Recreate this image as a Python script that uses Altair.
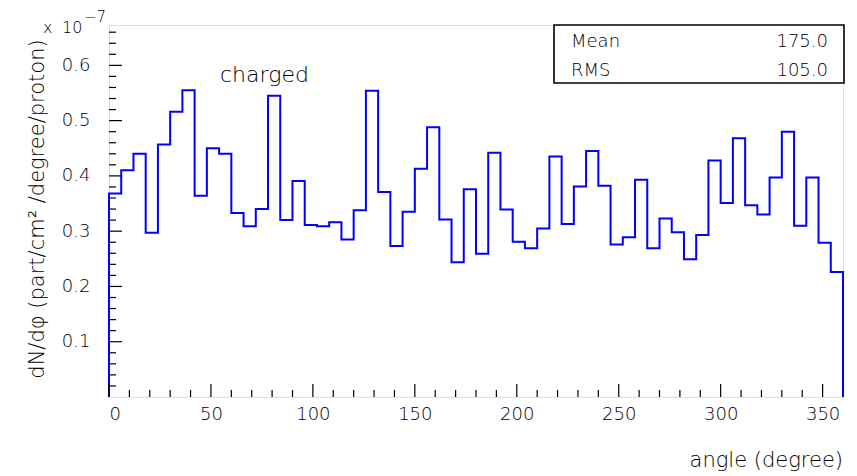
import altair as alt
import pandas as pd

# ---- data (values in units of 1e-7) ----
bin_width = 6
counts = [0.368, 0.410, 0.440, 0.297, 0.457, 0.516, 0.555, 0.364, 0.450, 0.440,
          0.333, 0.309, 0.340, 0.545, 0.320, 0.391, 0.311, 0.309, 0.316, 0.285,
          0.338, 0.554, 0.371, 0.273, 0.335, 0.413, 0.488, 0.321, 0.244, 0.376,
          0.259, 0.442, 0.339, 0.281, 0.269, 0.305, 0.435, 0.313, 0.381, 0.445,
          0.382, 0.276, 0.289, 0.393, 0.269, 0.323, 0.298, 0.249, 0.293, 0.428,
          0.351, 0.468, 0.347, 0.330, 0.397, 0.480, 0.310, 0.397, 0.279, 0.226]
x_major = [0, 50, 100, 150, 200, 250, 300, 350]
x_minor = [v for v in range(10, 360, 10) if v % 50 != 0]
y_major = [0.1, 0.2, 0.3, 0.4, 0.5, 0.6]
y_minor = [round(0.02 * k, 2) for k in range(1, 34) if k % 5 != 0]
stat_names = ["Mean", "RMS"]
stat_values = ["175.0", "105.0"]
label_text = "charged"
x_title = "angle (degree)"
y_title = "dN/d\u03c6 (part/cm\u00b2 /degree/proton)"

W, H = 734, 372
XMAX, YMAX = 360, 0.673
FONT = "DejaVu Sans"
FW = 200

# step outline of the histogram
xs = [0]
ys = [0]
for i, c in enumerate(counts):
    xs.append(i * bin_width)
    ys.append(c)
xs += [len(counts) * bin_width, len(counts) * bin_width]
ys += [counts[-1], 0]
hist = pd.DataFrame({"x": xs, "y": ys, "i": range(len(xs))})

xsc = alt.Scale(domain=[0, XMAX], nice=False, zero=False)
ysc = alt.Scale(domain=[0, YMAX], nice=False, zero=False)

line = alt.Chart(hist).mark_line(interpolate="step-after", color="#0000ff", strokeWidth=2).encode(
    x=alt.X("x:Q", scale=xsc,
            axis=alt.Axis(values=x_major, format="d", ticks=False, tickSize=0, domain=False,
                          grid=False, title=None, labelFont=FONT, labelFontSize=18,
                          labelFontWeight=FW, labelColor="black", labelPadding=8)),
    y=alt.Y("y:Q", scale=ysc,
            axis=alt.Axis(values=y_major, format=".1f", ticks=False, tickSize=0, domain=False,
                          grid=False, title=None, labelFont=FONT, labelFontSize=18,
                          labelFontWeight=FW, labelColor="black", labelPadding=19)),
    order="i:Q",
)

ymaj = alt.Chart(pd.DataFrame({"v": y_major})).mark_rule(color="black", strokeWidth=1.2).encode(
    y=alt.Y("v:Q", scale=ysc), x=alt.value(0), x2=alt.value(13))
ymin = alt.Chart(pd.DataFrame({"v": y_minor})).mark_rule(color="black", strokeWidth=1.2).encode(
    y=alt.Y("v:Q", scale=ysc), x=alt.value(0), x2=alt.value(7))
xmaj = alt.Chart(pd.DataFrame({"v": x_major})).mark_rule(color="black", strokeWidth=1.2).encode(
    x=alt.X("v:Q", scale=xsc), y=alt.value(H), y2=alt.value(H - 13))
xmin = alt.Chart(pd.DataFrame({"v": x_minor})).mark_rule(color="black", strokeWidth=1.2).encode(
    x=alt.X("v:Q", scale=xsc), y=alt.value(H), y2=alt.value(H - 7))

box = alt.Chart(pd.DataFrame({"a": [0]})).mark_rect(fill="white", stroke="black", strokeWidth=1.6).encode(
    x=alt.value(445), x2=alt.value(735), y=alt.value(0), y2=alt.value(58))

stats = pd.DataFrame({"name": stat_names, "val": stat_values, "row": [0, 1]})
stat_names_t = alt.Chart(stats).transform_calculate(py="22 + datum.row * 29").mark_text(
    font=FONT, fontSize=18, fontWeight=FW, align="left", baseline="alphabetic", color="black").encode(
    x=alt.value(462), y=alt.Y("py:Q", scale=None), text="name:N")
stat_vals_t = alt.Chart(stats).transform_calculate(py="22 + datum.row * 29").mark_text(
    font=FONT, fontSize=18, fontWeight=FW, align="right", baseline="alphabetic", color="black").encode(
    x=alt.value(719), y=alt.Y("py:Q", scale=None), text="val:N")

texts = pd.DataFrame({"t": [label_text]})
charged = alt.Chart(texts).mark_text(font=FONT, fontSize=22, fontWeight=FW, align="left",
                                     baseline="alphabetic", color="black").encode(
    x=alt.value(111), y=alt.value(57), text="t:N")

mult = pd.DataFrame({"t": ["x", "10", "\u22127"], "px": [-66, -47, -25], "py": [8, 8, -3],
                     "fs": [16, 16, 15]})
mult_t = alt.Chart(mult).mark_text(font=FONT, fontWeight=FW, align="left", baseline="alphabetic",
                                   color="black").encode(
    x=alt.X("px:Q", scale=None), y=alt.Y("py:Q", scale=None), text="t:N",
    size=alt.Size("fs:Q", scale=None, legend=None))

xt = alt.Chart(pd.DataFrame({"t": [x_title]})).mark_text(font=FONT, fontSize=21, fontWeight=FW, align="right",
                                                         baseline="alphabetic", color="black").encode(
    x=alt.value(W), y=alt.value(442), text="t:N")
yt = alt.Chart(pd.DataFrame({"t": [y_title]})).mark_text(font=FONT, fontSize=21, fontWeight=FW, align="center",
                                                         baseline="middle", angle=270, color="black").encode(
    x=alt.value(-71), y=alt.value(184), text="t:N")

chart = alt.layer(line, ymaj, ymin, xmaj, xmin, box, stat_names_t, stat_vals_t, charged, mult_t, xt, yt).properties(
    width=W, height=H,
    autosize=alt.AutoSizeParams(type="none"),
    padding={"left": 109, "top": 25, "right": 14, "bottom": 79},
).configure_view(stroke="black", strokeWidth=1.2).configure(background="white")

chart.save("out.html", embed_options={"renderer": "svg", "actions": False})
